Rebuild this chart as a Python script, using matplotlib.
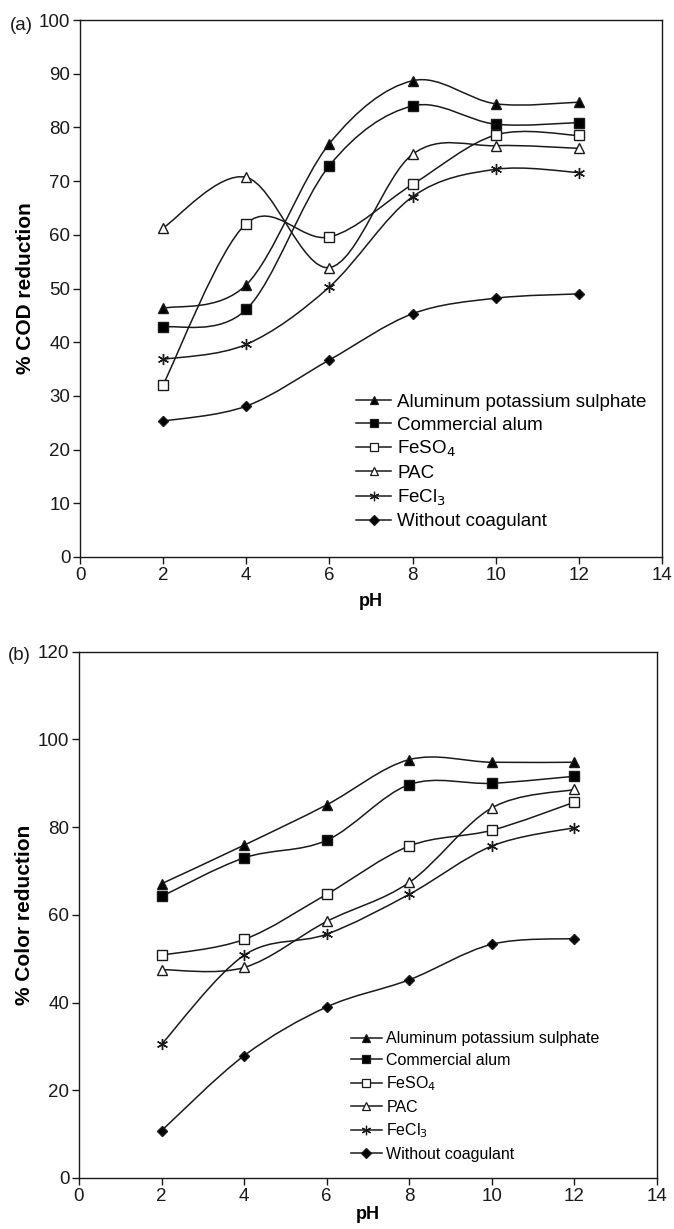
import numpy as np
import matplotlib
matplotlib.use("Agg")
import matplotlib.pyplot as plt
from matplotlib.path import Path
from matplotlib.patches import PathPatch
from matplotlib.lines import Line2D

# pH values and data
ph = [2, 4, 6, 8, 10, 12]
names = ["Aluminum potassium sulphate", "Commercial alum", "FeSO$_4$",
         "PAC", "FeCl$_3$", "Without coagulant"]

cod_alk = [46.3, 50.7, 77.0, 88.7, 84.4, 84.7]
cod_alum = [42.8, 46.1, 72.9, 84.0, 80.6, 80.9]
cod_feso4 = [32.1, 62.1, 59.6, 69.4, 78.6, 78.5]
cod_pac = [61.3, 70.7, 53.9, 75.0, 76.6, 76.1]
cod_fecl3 = [36.8, 39.6, 50.3, 67.1, 72.2, 71.6]
cod_none = [25.3, 28.1, 36.7, 45.3, 48.2, 49.0]

col_alk = [67.1, 75.9, 85.1, 95.4, 94.8, 94.8]
col_alum = [64.2, 73.0, 77.0, 89.7, 90.0, 91.6]
col_feso4 = [50.8, 54.4, 64.7, 75.7, 79.3, 85.7]
col_pac = [47.5, 48.0, 58.5, 67.4, 84.4, 88.6]
col_fecl3 = [30.5, 50.8, 55.6, 64.7, 75.7, 79.9]
col_none = [10.8, 27.9, 39.0, 45.2, 53.3, 54.6]

# marker styles: (marker, facecolor, size)
styles = [("^", "k", 7), ("s", "k", 7), ("s", "w", 6.5),
          ("^", "w", 6.5), ((6, 2, 0), "k", 8), ("D", "k", 5.5)]

INK = "#1a1a1a"


def smooth_path(xs, ys):
    # Excel-style smoothed line: cubic Bezier through the points
    p = np.column_stack([xs, ys]).astype(float)
    n = len(p)
    verts = [p[0]]
    codes = [Path.MOVETO]
    for i in range(n - 1):
        p0 = p[max(i - 1, 0)]
        p1 = p[i]
        p2 = p[i + 1]
        p3 = p[min(i + 2, n - 1)]
        verts += [p1 + (p2 - p0) / 6, p2 - (p3 - p1) / 6, p2]
        codes += [Path.CURVE4] * 3
    return Path(verts, codes)


def draw_panel(ax, series, ylim, yticks, ylabel, leg_font, leg_loc,
               leg_space, xpad):
    for ys, (mk, fc, ms) in zip(series, styles):
        ax.add_patch(PathPatch(smooth_path(ph, ys), fill=False,
                               edgecolor=INK, lw=1.1, zorder=2))
        ax.plot(ph, ys, linestyle="none", marker=mk, ms=ms, mfc=fc,
                mec=INK, mew=1.0, zorder=3)
    ax.set_xlim(0, 14)
    ax.set_ylim(*ylim)
    ax.set_xticks(range(0, 15, 2))
    ax.set_yticks(yticks)
    for s in ax.spines.values():
        s.set_color(INK)
        s.set_linewidth(1.0)
    ax.tick_params(direction="out", length=5, width=1.0, color=INK,
                   labelsize=13.5, labelcolor=INK, pad=2)
    ax.set_xlabel("pH", fontsize=13, fontweight="bold",
                  family="Liberation Sans", labelpad=xpad)
    ax.set_ylabel(ylabel, fontsize=15, fontweight="bold",
                  family="Liberation Sans", labelpad=3)
    handles = [Line2D([], [], color=INK, lw=1.1, marker=mk, ms=ms * 0.85,
                      mfc=fc, mec=INK, mew=0.9)
               for mk, fc, ms in styles]
    ax.legend(handles, names, loc="lower left", bbox_to_anchor=leg_loc,
              frameon=False, prop={"family": "Liberation Sans",
                                   "size": leg_font},
              handlelength=1.9, handletextpad=0.3, labelspacing=leg_space,
              borderaxespad=0)


plt.rcParams["font.family"] = "Liberation Sans"

fig = plt.figure(figsize=(6.74, 12.29), dpi=100)
ax1 = fig.add_axes([0.1187, 0.5468, 0.8635, 0.4369])
ax2 = fig.add_axes([0.1172, 0.0415, 0.8576, 0.4282])

draw_panel(ax1, [cod_alk, cod_alum, cod_feso4, cod_pac, cod_fecl3, cod_none],
           (0, 100), range(0, 101, 10), "% COD reduction",
           13.5, (0.461, 0.036), 0.29, 7)
draw_panel(ax2, [col_alk, col_alum, col_feso4, col_pac, col_fecl3, col_none],
           (0, 120), range(0, 121, 20), "% Color reduction",
           11.5, (0.46, 0.019), 0.41, 1)

fig.text(0.014, 1 - 25 / 1229, "(a)", ha="left", va="center",
         fontsize=13.5, color=INK)
fig.text(0.012, 1 - 655 / 1229, "(b)", ha="left", va="center",
         fontsize=13.5, color=INK)

fig.savefig("out.png", dpi=100)
